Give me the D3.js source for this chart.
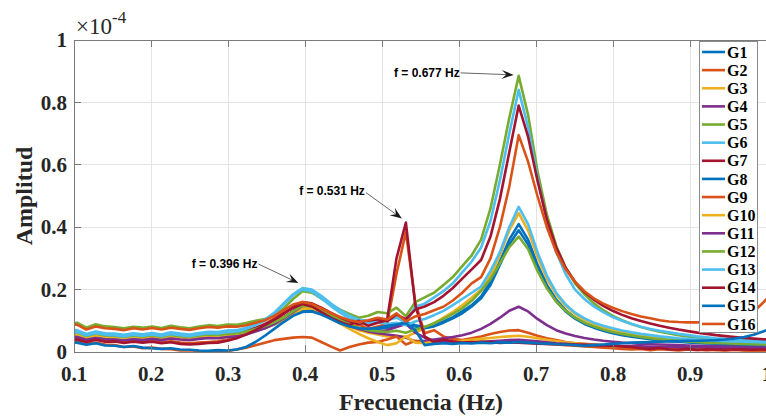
<!DOCTYPE html>
<html>
<head>
<meta charset="utf-8">
<script src="https://cdn.jsdelivr.net/npm/d3@7"></script>
<style>
  html, body { margin: 0; padding: 0; background: #ffffff; }
  svg { display: block; }
</style>
</head>
<body>
<svg id="chart" width="766" height="416"></svg>
<script>
// Spectral amplitude of the generator speed signals (amplitudes in units of 1e-6)
const freq = [
  0.0916, 0.1038, 0.1160, 0.1282, 0.1404, 0.1526, 0.1648, 0.1770, 0.1892, 0.2014,
  0.2136, 0.2258, 0.2380, 0.2502, 0.2624, 0.2747, 0.2869, 0.2991, 0.3113, 0.3235,
  0.3357, 0.3479, 0.3601, 0.3723, 0.3845, 0.3967, 0.4089, 0.4211, 0.4333, 0.4456,
  0.4578, 0.4700, 0.4822, 0.4944, 0.5066, 0.5188, 0.5310, 0.5432, 0.5554, 0.5676,
  0.5798, 0.5920, 0.6042, 0.6165, 0.6287, 0.6409, 0.6531, 0.6653, 0.6775, 0.6897,
  0.7019, 0.7141, 0.7263, 0.7385, 0.7507, 0.7629, 0.7751, 0.7874, 0.7996, 0.8118,
  0.8240, 0.8362, 0.8484, 0.8606, 0.8728, 0.8850, 0.8972, 0.9094, 0.9216, 0.9338,
  0.9460, 0.9583, 0.9705, 0.9827, 0.9949, 1.0071
];

const G1 = [
  5.6, 5.9, 4.8, 5.5, 5.0, 4.9, 4.5, 5.0, 4.7, 5.1,
  4.6, 5.2, 4.8, 4.6, 5.0, 5.3, 5.2, 5.6, 5.7, 6.3,
  7.0, 7.9, 9.0, 10.4, 12.0, 13.5, 13.6, 12.6, 11.2, 9.8,
  8.6, 7.8, 7.4, 7.6, 8.2, 9.0, 9.6, 8.6, 8.0, 8.6,
  9.8, 11.2, 13.0, 15.0, 17.8, 22.5, 29.0, 36.0, 41.0, 36.0,
  28.0, 21.5, 16.8, 13.4, 11.0, 9.3, 8.0, 7.0, 6.2, 5.6,
  5.1, 4.7, 4.3, 4.0, 3.7, 3.5, 3.3, 3.1, 2.9, 2.8,
  2.7, 2.6, 2.5, 2.4, 2.3, 2.2
];
const G2 = [
  4.6, 4.4, 3.6, 4.2, 3.7, 3.8, 3.3, 3.6, 3.3, 3.6,
  3.1, 3.4, 3.0, 2.8, 3.0, 3.2, 3.4, 4.0, 4.8, 6.0,
  7.4, 9.0, 10.8, 12.6, 14.2, 15.0, 14.2, 12.6, 10.8, 9.2,
  8.0, 8.8, 7.4, 8.2, 9.0, 25.0, 38.5, 16.0, 6.0, 7.0,
  5.0, 4.2, 3.8, 3.6, 3.4, 3.2, 3.0, 3.2, 3.4, 3.1,
  2.8, 2.6, 2.4, 2.2, 2.0, 1.8, 1.6, 1.4, 1.2, 1.0,
  0.8, 1.0, 0.6, 0.9, 0.7, 0.5, 0.8, 0.6, 0.7, 0.6,
  0.5, 0.7, 0.6, 0.5, 0.6, 0.5
];
const G3 = [
  6.4, 6.6, 5.5, 6.2, 5.6, 5.5, 5.1, 5.6, 5.3, 5.7,
  5.2, 5.8, 5.4, 5.2, 5.6, 5.9, 5.8, 6.1, 6.2, 6.7,
  7.5, 8.4, 9.6, 11.2, 13.0, 14.5, 14.2, 12.8, 11.2, 9.6,
  8.2, 7.0, 6.2, 5.6, 5.0, 5.2, 4.8, 6.2, 7.6, 9.2,
  11.0, 12.8, 15.0, 17.4, 20.0, 24.5, 31.0, 39.0, 44.5, 39.0,
  30.5, 23.5, 18.4, 14.8, 12.2, 10.4, 9.0, 8.0, 7.2, 6.5,
  5.9, 5.4, 5.0, 4.6, 4.3, 4.0, 3.8, 3.6, 3.4, 3.2,
  3.1, 3.0, 2.9, 2.8, 2.7, 2.6
];
const G4 = [
  5.0, 5.3, 4.2, 4.9, 4.4, 4.3, 3.9, 4.4, 4.1, 4.5,
  4.0, 4.6, 4.2, 4.0, 4.4, 4.7, 4.6, 5.0, 5.2, 5.9,
  6.8, 7.8, 9.2, 11.0, 13.2, 15.2, 15.4, 14.0, 12.2, 10.4,
  8.8, 7.6, 6.6, 6.0, 5.6, 5.2, 4.6, 3.4, 3.6, 4.0,
  4.4, 4.8, 5.4, 6.2, 7.4, 9.0, 11.0, 13.2, 14.5, 13.0,
  10.6, 8.6, 7.0, 5.9, 5.1, 4.5, 4.0, 3.6, 3.3, 3.0,
  2.8, 2.6, 2.5, 2.4, 2.3, 2.2, 2.1, 2.0, 2.0, 1.9,
  1.9, 1.8, 1.8, 1.7, 1.7, 1.6
];
const G5 = [
  9.0, 9.4, 7.8, 8.9, 8.2, 8.0, 7.6, 8.1, 7.8, 8.2,
  7.7, 8.4, 7.9, 7.6, 8.2, 8.6, 8.3, 8.8, 8.7, 9.3,
  10.0, 10.6, 11.8, 14.0, 17.0, 19.5, 19.0, 17.2, 15.3, 13.6,
  12.2, 11.0, 11.6, 12.8, 12.4, 14.2, 11.5, 16.0, 17.5, 19.0,
  21.5, 24.0, 27.5, 31.0, 36.0, 46.0, 60.0, 75.0, 88.5, 76.0,
  58.0, 44.0, 34.0, 27.0, 22.0, 18.5, 15.6, 13.4, 11.6, 10.2,
  9.0, 8.0, 7.2, 6.5, 5.9, 5.4, 5.0, 4.6, 4.3, 4.0,
  3.8, 3.6, 3.4, 3.2, 3.1, 3.0
];
const G6 = [
  6.8, 7.0, 5.8, 6.6, 6.0, 5.9, 5.5, 6.0, 5.7, 6.1,
  5.6, 6.3, 5.9, 5.6, 6.1, 6.5, 6.4, 6.9, 7.0, 7.8,
  9.0, 10.4, 12.6, 15.6, 18.5, 20.5, 20.0, 18.0, 15.6, 13.4,
  11.6, 10.3, 10.0, 10.6, 10.2, 11.0, 9.5, 14.5, 15.5, 17.5,
  19.5, 22.0, 25.5, 29.0, 33.5, 42.0, 55.0, 70.0, 84.0, 72.0,
  56.0, 42.0, 32.0, 25.0, 20.0, 17.0, 14.6, 12.8, 11.2, 10.0,
  9.0, 8.1, 7.4, 6.8, 6.3, 5.8, 5.4, 5.0, 4.7, 4.4,
  4.2, 4.0, 3.8, 3.6, 3.5, 3.4
];
const G7 = [
  5.8, 6.0, 4.9, 5.6, 5.1, 5.0, 4.7, 5.2, 4.9, 5.3,
  4.9, 5.5, 5.1, 4.9, 5.3, 5.7, 5.6, 6.0, 6.1, 6.8,
  7.8, 8.8, 10.2, 12.2, 14.4, 16.0, 15.6, 14.2, 12.6, 11.0,
  9.8, 9.0, 9.6, 10.4, 9.8, 12.0, 10.5, 13.6, 14.6, 16.0,
  18.0, 20.5, 23.5, 26.5, 29.5, 37.0, 49.0, 64.0, 79.0, 69.0,
  55.0, 42.5, 33.5, 27.0, 22.5, 19.2, 16.8, 14.8, 13.2, 11.9,
  10.8, 9.9, 9.1, 8.4, 7.8, 7.2, 6.7, 6.2, 5.8, 5.4,
  5.1, 4.8, 4.5, 4.3, 4.1, 4.0
];
const G8 = [
  5.2, 5.5, 4.5, 5.2, 4.7, 4.6, 4.3, 4.7, 4.4, 4.8,
  4.3, 4.9, 4.5, 4.3, 4.7, 5.0, 4.9, 5.3, 5.4, 6.0,
  6.8, 7.7, 8.8, 10.2, 11.8, 13.2, 13.4, 12.4, 11.0, 9.6,
  8.4, 7.6, 7.2, 7.4, 7.8, 8.4, 9.0, 8.2, 7.6, 8.2,
  9.4, 10.8, 12.4, 14.6, 17.2, 21.5, 28.0, 34.5, 39.0, 34.5,
  27.0, 20.8, 16.2, 13.0, 10.7, 9.0, 7.8, 6.8, 6.0, 5.4,
  4.9, 4.5, 4.1, 3.8, 3.5, 3.3, 3.1, 2.9, 2.8, 2.7,
  2.6, 2.5, 2.4, 2.3, 2.2, 2.1
];
const G9 = [
  3.6, 3.4, 2.6, 3.0, 2.4, 2.2, 1.6, 1.8, 1.2, 1.4,
  1.0, 0.9, 0.5, 0.6, 0.3, 0.2, 0.4, 0.3, 0.8, 1.4,
  2.2, 3.0, 3.8, 4.2, 4.6, 4.8, 4.6, 3.2, 1.8, 0.5,
  1.6, 2.4, 3.0, 3.2, 4.0, 5.0, 2.4, 3.6, 3.0, 2.8,
  3.0, 3.4, 3.8, 4.4, 5.0, 5.8, 6.4, 6.9, 7.0, 6.2,
  5.2, 4.4, 3.8, 3.2, 2.8, 2.6, 2.4, 2.2, 2.0, 1.6,
  1.4, 1.2, 1.0, 1.2, 0.8, 1.0, 0.7, 0.9, 0.6, 0.8,
  0.6, 0.7, 0.5, 0.6, 0.5, 0.6
];
const G10 = [
  5.4, 5.7, 4.6, 5.3, 4.8, 4.7, 4.3, 4.8, 4.5, 4.9,
  4.4, 5.0, 4.6, 4.4, 4.8, 5.1, 5.0, 5.4, 5.5, 6.0,
  6.8, 7.7, 8.9, 10.4, 12.0, 13.8, 14.0, 12.8, 11.0, 9.2,
  7.4, 5.8, 4.4, 3.2, 2.2, 2.8, 5.0, 3.0, 2.8, 3.0,
  3.2, 3.4, 3.6, 3.9, 4.2, 4.5, 4.8, 5.0, 5.2, 4.9,
  4.4, 3.9, 3.5, 3.1, 2.8, 2.5, 2.3, 2.1, 1.9, 1.8,
  1.7, 1.6, 1.5, 1.4, 1.4, 1.3, 1.3, 1.2, 1.2, 1.1,
  1.1, 1.1, 1.0, 1.0, 1.0, 0.9
];
const G11 = [
  4.6, 4.8, 3.9, 4.5, 4.1, 4.0, 3.7, 4.1, 3.8, 4.2,
  3.8, 4.3, 4.0, 3.8, 4.2, 4.5, 4.4, 4.8, 5.0, 5.6,
  6.6, 7.6, 9.0, 10.8, 12.8, 14.8, 15.0, 13.6, 11.8, 10.0,
  8.4, 7.4, 6.8, 6.4, 7.0, 8.0, 9.0, 6.2, 4.6, 3.6,
  3.2, 3.0, 2.9, 3.0, 3.2, 3.4, 3.6, 3.8, 3.9, 3.7,
  3.4, 3.1, 2.8, 2.6, 2.4, 2.3, 2.2, 2.1, 2.0, 1.9,
  1.8, 1.8, 1.7, 1.7, 1.6, 1.6, 1.5, 1.5, 1.5, 1.4,
  1.4, 1.4, 1.3, 1.3, 1.3, 1.2
];
const G12 = [
  6.0, 6.3, 5.1, 5.9, 5.3, 5.2, 4.8, 5.3, 5.0, 5.4,
  4.9, 5.5, 5.1, 4.9, 5.3, 5.6, 5.5, 5.9, 6.0, 6.6,
  7.4, 8.3, 9.5, 11.0, 13.0, 14.8, 14.6, 13.4, 11.8, 10.2,
  8.8, 7.8, 7.0, 6.6, 6.4, 6.8, 6.2, 7.2, 8.0, 9.2,
  10.6, 12.2, 14.0, 16.4, 19.6, 23.4, 28.4, 33.6, 37.0, 33.0,
  26.0, 20.4, 16.2, 13.2, 11.0, 9.4, 8.2, 7.2, 6.4, 5.8,
  5.3, 4.8, 4.4, 4.1, 3.8, 3.6, 3.4, 3.2, 3.0, 2.9,
  2.8, 2.7, 2.6, 2.5, 2.4, 2.3
];
const G13 = [
  6.2, 6.5, 5.3, 6.1, 5.5, 5.4, 5.0, 5.5, 5.2, 5.6,
  5.1, 5.8, 5.4, 5.1, 5.6, 6.0, 5.9, 6.4, 6.6, 7.4,
  8.6, 10.0, 12.2, 15.2, 18.2, 20.0, 19.4, 17.2, 14.8, 12.6,
  10.8, 9.6, 9.2, 9.6, 9.0, 9.4, 8.6, 9.8, 10.6, 11.8,
  13.2, 15.0, 17.0, 19.0, 21.0, 26.0, 32.0, 40.0, 46.5, 41.0,
  32.0, 24.5, 19.0, 15.2, 12.6, 10.8, 9.4, 8.4, 7.6, 6.9,
  6.3, 5.8, 5.4, 5.0, 4.7, 4.4, 4.2, 4.0, 3.8, 3.6,
  3.5, 3.4, 3.3, 3.2, 3.1, 3.0
];
const G14 = [
  4.2, 4.0, 3.2, 3.9, 3.3, 3.4, 2.9, 3.3, 3.0, 3.3,
  2.8, 3.1, 2.6, 2.4, 2.6, 2.9, 3.0, 3.6, 4.4, 5.6,
  7.0, 8.6, 10.4, 12.4, 14.2, 15.4, 14.6, 12.8, 11.0, 9.6,
  8.6, 10.0, 8.4, 9.4, 10.2, 30.0, 41.5, 15.0, 5.0, 3.2,
  4.0, 3.4, 3.0, 3.2, 3.0, 3.2, 2.9, 3.1, 3.0, 2.8,
  2.7, 2.6, 2.5, 2.4, 2.4, 2.3, 2.2, 2.1, 2.0, 1.8,
  1.6, 1.2, 1.0, 1.3, 0.9, 0.8, 1.0, 0.7, 0.9, 0.8,
  0.7, 0.9, 0.8, 0.7, 0.8, 0.7
];
const G15 = [
  3.2, 3.0, 2.3, 2.8, 2.1, 2.0, 1.6, 1.9, 1.4, 1.2,
  1.0, 1.2, 0.8, 0.7, 0.5, 0.4, 0.6, 0.5, 0.8, 1.6,
  3.2, 5.2, 7.4, 9.6, 11.6, 12.8, 13.0, 12.0, 10.6, 9.2,
  8.2, 7.6, 7.4, 7.8, 8.4, 8.8, 9.2, 7.0, 2.2, 2.6,
  2.8, 2.6, 2.9, 2.7, 3.0, 2.8, 3.1, 3.0, 3.2, 3.0,
  2.8, 2.7, 2.5, 2.4, 2.2, 2.0, 2.2, 2.4, 2.6, 2.8,
  3.0, 3.1, 3.2, 3.3, 3.4, 3.5, 3.6, 3.6, 3.7, 3.8,
  4.0, 4.3, 4.8, 5.5, 6.6, 7.6
];
const G16 = [
  8.4, 8.8, 7.2, 8.2, 7.6, 7.4, 7.0, 7.6, 7.2, 7.7,
  7.2, 7.8, 7.4, 7.1, 7.6, 8.0, 7.8, 8.2, 8.1, 8.6,
  9.4, 10.2, 11.6, 13.4, 15.2, 16.0, 15.4, 14.0, 12.5, 11.2,
  10.2, 9.6, 10.2, 11.0, 10.4, 12.4, 9.8, 11.4, 12.2, 13.4,
  14.5, 16.5, 19.0, 22.0, 24.0, 30.0, 40.0, 53.0, 69.5, 61.0,
  50.0, 40.0, 32.0, 26.5, 22.5, 19.5, 17.2, 15.5, 14.2, 13.1,
  12.2, 11.4, 10.8, 10.2, 9.8, 9.6, 9.5, 9.5, 9.6, 9.8,
  10.2, 10.8, 11.6, 13.0, 15.8, 19.0
];

const seriesNames = ["G1", "G2", "G3", "G4", "G5", "G6", "G7", "G8",
                     "G9", "G10", "G11", "G12", "G13", "G14", "G15", "G16"];
const seriesValues = [G1, G2, G3, G4, G5, G6, G7, G8,
                      G9, G10, G11, G12, G13, G14, G15, G16];
const palette = ["#0072BD", "#D95319", "#EDB120", "#7E2F8E",
                 "#77AC30", "#4DBEEE", "#A2142F"];

const xTicks = [0.1, 0.2, 0.3, 0.4, 0.5, 0.6, 0.7, 0.8, 0.9, 1.0];
const xTickLabels = ["0.1", "0.2", "0.3", "0.4", "0.5", "0.6", "0.7", "0.8", "0.9", "1"];
const yTicks = [0, 20, 40, 60, 80, 100];
const yTickLabels = ["0", "0.2", "0.4", "0.6", "0.8", "1"];

// Dominant modes marked on the spectrum
const modeFreq = [0.3967, 0.5310, 0.6775];
const modeAmp = [20.5, 41.5, 88.5];
const modeLabels = ["f = 0.396 Hz", "f = 0.531 Hz", "f = 0.677 Hz"];

// ---------------------------------------------------------------
const svg = d3.select("#chart");
const W = 766, H = 416;
const plot = { left: 74, right: 767, top: 40, bottom: 352 };

const x = d3.scaleLinear().domain([0.1, 1.0]).range([plot.left, plot.right]);
const y = d3.scaleLinear().domain([0, 100]).range([plot.bottom, plot.top]);

const serif = "'Liberation Serif', 'Times New Roman', serif";
const sans = "'Liberation Sans', Arial, Helvetica, sans-serif";
const axisGray = "#7a7a7a";

svg.append("rect").attr("width", W).attr("height", H).attr("fill", "#fff");

// clip region for the spectra
svg.append("defs").append("clipPath").attr("id", "plotClip")
  .append("rect")
  .attr("x", plot.left).attr("y", plot.top)
  .attr("width", plot.right - plot.left).attr("height", plot.bottom - plot.top);

// grid
const grid = svg.append("g");
grid.selectAll("line.gx").data(xTicks).join("line")
  .attr("x1", d => x(d)).attr("x2", d => x(d))
  .attr("y1", plot.top).attr("y2", plot.bottom)
  .attr("stroke", "#e4e4e4").attr("stroke-width", 1)
  .attr("shape-rendering", "crispEdges");
grid.selectAll("line.gy").data(yTicks).join("line")
  .attr("x1", plot.left).attr("x2", plot.right)
  .attr("y1", d => y(d)).attr("y2", d => y(d))
  .attr("stroke", "#e4e4e4").attr("stroke-width", 1)
  .attr("shape-rendering", "crispEdges");

// spectra
const line = d3.line()
  .x((d, i) => x(freq[i]))
  .y(d => y(d));

svg.append("g").attr("clip-path", "url(#plotClip)")
  .selectAll("path").data(seriesValues).join("path")
  .attr("d", d => line(d))
  .attr("fill", "none")
  .attr("stroke", (d, i) => palette[i % palette.length])
  .attr("stroke-width", 2.6)
  .attr("stroke-linejoin", "round")
  .attr("stroke-linecap", "round");

// axes box and inward ticks
const axes = svg.append("g").attr("stroke", axisGray).attr("stroke-width", 1)
  .attr("shape-rendering", "crispEdges");
axes.append("line").attr("x1", plot.left).attr("x2", plot.left)
  .attr("y1", plot.top).attr("y2", plot.bottom);
axes.append("line").attr("x1", plot.left).attr("x2", plot.right)
  .attr("y1", plot.bottom).attr("y2", plot.bottom);
axes.append("line").attr("x1", plot.left).attr("x2", plot.right)
  .attr("y1", plot.top).attr("y2", plot.top);
axes.append("line").attr("x1", plot.right).attr("x2", plot.right)
  .attr("y1", plot.top).attr("y2", plot.bottom);

const tl = 7;
xTicks.forEach(t => {
  axes.append("line").attr("x1", x(t)).attr("x2", x(t))
    .attr("y1", plot.bottom).attr("y2", plot.bottom - tl);
  axes.append("line").attr("x1", x(t)).attr("x2", x(t))
    .attr("y1", plot.top).attr("y2", plot.top + tl);
});
yTicks.forEach(t => {
  axes.append("line").attr("x1", plot.left).attr("x2", plot.left + tl)
    .attr("y1", y(t)).attr("y2", y(t));
});

// tick labels
svg.append("g").selectAll("text").data(xTicks).join("text")
  .attr("x", d => x(d)).attr("y", 381)
  .attr("text-anchor", "middle")
  .attr("font-family", serif).attr("font-weight", "bold").attr("font-size", 21)
  .attr("fill", "#262626")
  .text((d, i) => xTickLabels[i]);

svg.append("g").selectAll("text").data(yTicks).join("text")
  .attr("x", plot.left - 7).attr("y", d => y(d))
  .attr("dy", "0.34em")
  .attr("text-anchor", "end")
  .attr("font-family", serif).attr("font-weight", "bold").attr("font-size", 21)
  .attr("fill", "#262626")
  .text((d, i) => yTickLabels[i]);

// exponent label
const expo = svg.append("text")
  .attr("x", 76).attr("y", 34)
  .attr("font-family", serif).attr("font-size", 23).attr("fill", "#262626");
expo.append("tspan").text("\u00D710");
expo.append("tspan").attr("dy", -11).attr("font-size", 17).text("-4");

// axis titles
svg.append("text")
  .attr("x", 421).attr("y", 410)
  .attr("text-anchor", "middle")
  .attr("font-family", serif).attr("font-weight", "bold").attr("font-size", 24)
  .attr("fill", "#262626")
  .text("Frecuencia (Hz)");

svg.append("text")
  .attr("transform", `translate(32, ${(plot.top + plot.bottom) / 2}) rotate(-90)`)
  .attr("text-anchor", "middle")
  .attr("font-family", serif).attr("font-weight", "bold").attr("font-size", 24)
  .attr("fill", "#262626")
  .text("Amplitud");

// mode annotations: text + arrow pointing at the peak
const notes = [
  { tx: -45, ty: -20, sx: -44, sy: -24, ex: -4, ey: -5 },
  { tx: -41, ty: -28, sx: -40, sy: -30, ex: -4, ey: -4 },
  { tx: -59, ty: 1.5, sx: -58, sy: -3, ex: -5, ey: -1 }
];
const ann = svg.append("g");
modeFreq.forEach((f, i) => {
  const px = x(f), py = y(modeAmp[i]);
  const n = notes[i];
  ann.append("text")
    .attr("x", px + n.tx).attr("y", py + n.ty)
    .attr("text-anchor", "end")
    .attr("font-family", sans).attr("font-weight", "bold").attr("font-size", 12)
    .attr("fill", "#000")
    .text(modeLabels[i]);
  const x0 = px + n.sx, y0 = py + n.sy, x1 = px + n.ex, y1 = py + n.ey;
  const ang = Math.atan2(y1 - y0, x1 - x0) * 180 / Math.PI;
  const L = 12, Wd = 9;
  ann.append("line")
    .attr("x1", x0).attr("y1", y0)
    .attr("x2", x1 - L * 0.6 * Math.cos(ang * Math.PI / 180))
    .attr("y2", y1 - L * 0.6 * Math.sin(ang * Math.PI / 180))
    .attr("stroke", "#555").attr("stroke-width", 0.9);
  ann.append("path")
    .attr("d", `M0,0 L${-L},${-Wd / 2} L${-L * 0.6},0 L${-L},${Wd / 2} Z`)
    .attr("transform", `translate(${x1},${y1}) rotate(${ang})`)
    .attr("fill", "#1a1a1a");
});

// legend
const leg = { x: 699, y: 41, w: 58, h: 291 };
const lg = svg.append("g");
lg.append("rect")
  .attr("x", leg.x + 0.5).attr("y", leg.y + 0.5)
  .attr("width", leg.w).attr("height", leg.h)
  .attr("fill", "#fff").attr("stroke", "#8c8c8c").attr("stroke-width", 1);
const rowH = 18.13;
seriesNames.forEach((name, i) => {
  const cy = leg.y + 11 + i * rowH;
  lg.append("line")
    .attr("x1", leg.x + 3).attr("x2", leg.x + 26)
    .attr("y1", cy).attr("y2", cy)
    .attr("stroke", palette[i % palette.length]).attr("stroke-width", 2.6);
  lg.append("text")
    .attr("x", leg.x + 28).attr("y", cy).attr("dy", "0.35em")
    .attr("font-family", serif).attr("font-weight", "bold").attr("font-size", 16)
    .attr("fill", "#000")
    .text(name);
});
</script>
</body>
</html>
